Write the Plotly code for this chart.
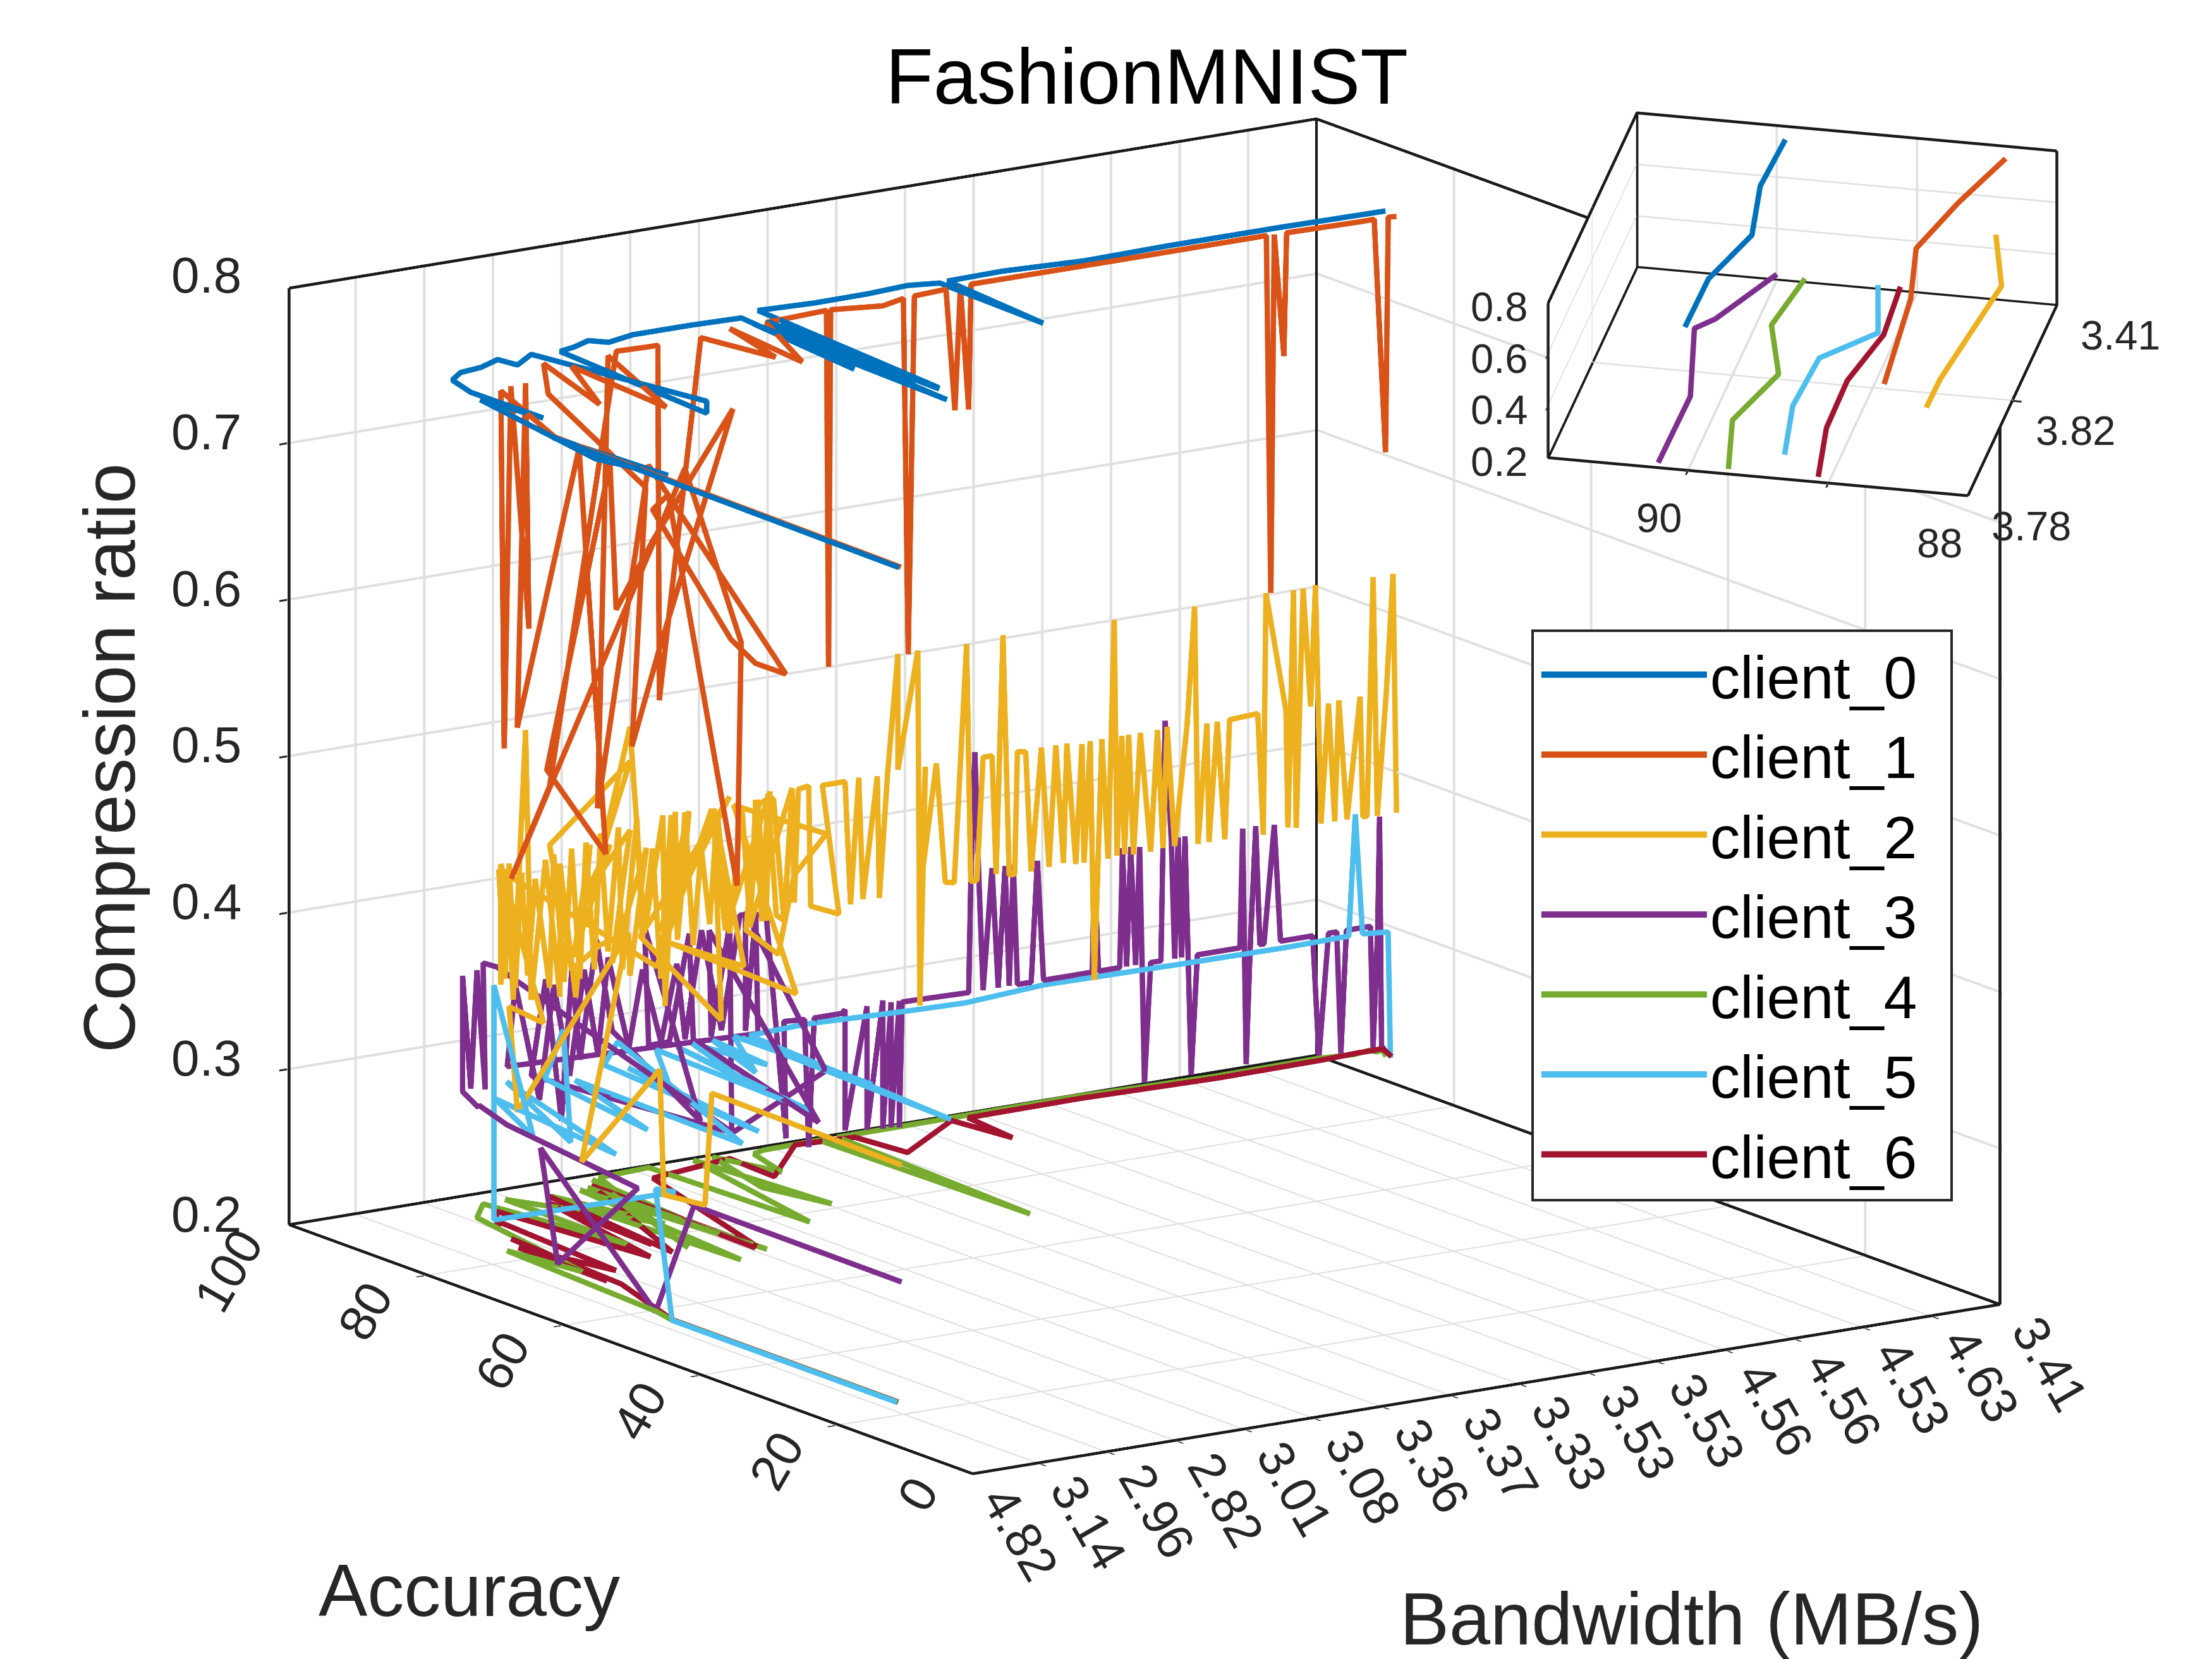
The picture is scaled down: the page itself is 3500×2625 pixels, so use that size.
import plotly.graph_objects as go

names = ["client_0","client_1","client_2","client_3","client_4","client_5","client_6"]
colors = ["#0072BD","#D95319","#EDB120","#7E2F8E","#77AC30","#4DBEEE","#A2142F"]

bw_labels = ["4.82","3.14","2.96","2.82","3.01","3.08","3.36","3.37","3.33","3.53","3.53","4.56","4.56","4.53","4.63","3.41"]
acc_ticks = [0,20,40,60,80,100]
cr_ticks = [0.2,0.3,0.4,0.5,0.6,0.7,0.8]

c0_x = [.35,.46,.57,.30,.77,.90,.88,1.03,1.32,1.67,2.05,2.10,2.53,3.00,2.67,2.90,3.17,3.48,3.64,4.09,4.91,5.64,5.36,5.60,5.45,5.76,5.67,5.80,5.55,5.90,5.70,6.01,6.79,7.57,8.20,8.59,8.58,8.52,8.72,9.5,10.7,11.90,13.48,14.6,15.0]
c0_a = [14.2,65.8,50.1,58,79.5,71.6,82,86.2,87.9,88.4,89.8,87.4,89.7,68.8,65.5,89.2,89.8,90.9,89.5,90.5,90.5,90.2,70.9,88,58.3,87.8,61.6,88,64,87,62,91.5,91,91.1,91.6,90.8,89,75,91,90.8,90.8,90.7,90.7,90.5,90.0]
c0_r = [.755,.755,.755,.755,.755,.755,.755,.755,.755,.755,.755,.755,.755,.755,.755,.755,.755,.755,.755,.755,.755,.755,.755,.755,.755,.755,.755,.755,.755,.755,.755,.755,.755,.755,.755,.755,.755,.755,.755,.756,.754,.755,.755,.755,.756]

c1_x = [.38,.49,1.22,.67,1.45,1.03,1.68,.86,1.76,2.15,1.29,2.21,2.30,2.83,4.00,2.94,2.53,2.73,1.61,2.40,1.84,2.60,2.43,3.26,2.03,2.77,4.77,4.33,3.97,2.83,3.06,4.06,4.12,3.30,.77,1.33,3.47,3.92,4.05,4.07,4.69,4.90,5.23,5.04,5.76,6.70,6.73,6.76,7.39,7.80,7.92,7.98,8.48,8.60,8.70,8.80,8.87,11.0,13.17,13.20,13.28,13.39,13.45,14.5,14.7,14.86,14.9,15.0]
c1_a = [14.2,65.8,81,75,81.85,75,82,75,75,75,75,75,75,75,75,75,75,75,78,86.6,72.8,84.5,69,85.8,75,75,75,75,75,75,75,75,75,75,75,75,86.7,86.45,86.45,86.45,86.6,77.8,87.8,75.3,87.8,88.4,88.4,88.4,87.1,88.2,88.7,88.4,88.8,88.7,88.9,88.7,89.06,89,89.05,88.7,89,88.7,88.9,88.6,88.65,88.6,88.6,88.4]
c1_r = [.755,.755,.755,.54,.755,.614,.755,.552,.724,.462,.522,.711,.617,.657,.733,.589,.528,.692,.755,.755,.755,.755,.755,.755,.492,.706,.558,.568,.586,.677,.685,.428,.583,.70,.456,.511,.755,.755,.755,.528,.755,.755,.755,.755,.755,.755,.527,.755,.755,.755,.526,.755,.755,.677,.755,.676,.755,.755,.755,.527,.755,.677,.755,.755,.755,.605,.755,.755]

c2_x = [.47,.50,.50,.50,.50,.50,.50,1.36,1.24,1.74,1.12,1.12,1.21,1.30,1.48,1.56,1.77,1.98,1.98,2.21,2.42,2.18,2.71,2.33,3.00,2.74,3.24,3.00,2.98,2.57,2.15,1.83,3.00,2.57,3.00,3.21,3.48,3.51,3.66,3.69,3.86,3.45,4.45,3.15,4.33,4.22,4.66,3.57,5.42,4.51,5.86,5.39,5.16,4.69,4.86,4.98,5.04,4.39,4.19,3.39,
1.09,1.18,1.24,1.33,1.42,1.51,1.62,1.83,1.89,2.04,2.15,2.27,2.36,2.48,2.57,2.68,2.83,2.89,3.10,3.18,3.33,3.45,3.60,3.69,3.80,3.92,4.04,4.16,4.27,4.45,4.63,4.75,4.83,4.92,5.01,5.13,5.25,5.36,
5.58,5.70,5.88,5.93,6.08,6.20,6.23,6.29,6.44,6.47,6.88,6.64,6.76,6.97,7.05,7.17,7.23,7.44,7.47,7.59,7.74,7.74,8.03,8.06,8.14,8.07,8.30,8.43,8.56,8.74,8.80,8.89,8.98,9.11,9.17,9.27,9.36,9.44,9.48,9.60,9.68,9.83,9.94,10.04,10.15,10.20,10.33,10.42,10.45,10.54,10.60,10.71,10.80,10.89,10.93,11.00,11.04,11.10,11.17,11.27,11.42,11.52,11.60,11.66,11.77,11.95,12.06,12.11,12.24,12.27,12.39,12.50,12.57,12.98,13.06,13.10,13.39,13.42,13.50,13.54,13.64,13.75,13.82,13.90,14.01,14.10,14.16,14.28,14.47,14.51,14.57,14.66,14.72,14.85,14.95,15.0]
c2_a = [15,43,44,50,50.6,62,55.3,80,80,80,80,80,80,80,80,80,80,80,80,80,80,80,80,80,80,80,80,80,80,80,80,80,80,80,80,80,80,80,80,80,80,80,80,80,80,80,80,80,80,80,80,80,80,80,80,80,80,80,80,80,
80,80,80,80,80,80,80,80,80,80,80,80,80,80,80,80,80,80,80,80,80,80,80,80,80,80,80,80,80,80,80,80,80,80,80,80,80,80,
88.4,88.4,88.4,88.4,88.4,88.4,88.4,88.4,88.4,88.4,88.4,88.4,88.4,88.4,88.4,88.4,88.4,88.4,88.4,88.4,88.4,88.4,88.4,88.4,88.4,88.4,88.4,88.4,88.4,88.4,88.4,88.4,88.4,88.4,88.4,88.4,88.4,88.4,88.4,88.4,88.4,88.4,88.4,88.4,88.4,88.4,88.4,88.4,88.4,88.4,88.4,88.4,88.4,88.4,88.4,88.4,88.4,88.4,88.4,88.4,88.4,88.4,88.4,88.4,88.4,88.4,88.4,88.4,88.4,88.4,88.4,88.4,88.4,88.4,88.4,88.4,88.4,88.4,88.4,88.4,88.4,88.4,88.4,88.4,88.4,88.4,88.4,88.4,88.4,88.4,88.4,88.4,88.4,88.4,88.4,88.4,88.4,88.4,88.4,88.4,88.4,88.4,88.4,88.4,88.4,88.4,88.4]
c2_r = [.371,.372,.299,.296,.375,.298,.454,.295,.363,.349,.455,.378,.451,.367,.538,.365,.453,.364,.449,.362,.458,.388,.456,.425,.463,.380,.450,.370,.397,.393,.380,.462,.507,.449,.529,.396,.469,.347,.470,.388,.469,.395,.474,.394,.332,.468,.364,.387,.341,.468,.440,.417,.368,.387,.469,.391,.473,.389,.468,.373,
.4515,.3813,.4544,.3744,.4473,.3809,.4419,.3708,.4555,.3731,.4574,.3734,.4598,.3778,.4641,.3879,.4661,.3748,.47,.392,.4489,.3649,.4683,.3922,.4687,.3828,.4438,.3946,.4653,.3867,.4666,.3885,.4691,.391,.4717,.3934,.3887,.4729,
.369,.446,.450,.448,.369,.453,.380,.452,.453,.376,.368,.452,.452,.452,.373,.453,.375,.452,.374,.453,.528,.454,.528,.301,.453,.377,.454,.377,.376,.527,.375,.375,.453,.453,.377,.529,.375,.375,.453,.452,.375,.453,.376,.453,.377,.453,.375,.451,.375,.452,.299,.452,.375,.527,.376,.452,.376,.452,.375,.452,.375,.452,.376,.453,.376,.452,.527,.375,.451,.375,.451,.375,.451,.452,.374,.528,.451,.376,.527,.375,.527,.451,.528,.375,.451,.375,.452,.375,.452,.375,.375,.527,.374,.451,.527,.374,.458]

c3_x = [.57,.55,.55,.55,.55,.55,.55,.55,1.00,1.58,1.58,1.70,1.79,1.91,1.88,2.08,2.85,2.58,2.79,3.02,3.17,3.29,3.53,3.76,2.85,4.23,4.29,4.59,4.88,4.94,4.00,5.17,5.20,5.47,5.50,5.49,5.70,5.70,5.85,5.88,
2.23,2.35,2.70,2.91,3.14,3.35,3.55,3.70,4.00,4.20,4.47,4.70,4.82,5.06,5.35,5.62,
6.00,6.29,6.26,6.56,6.62,6.70,7.10,7.15,7.15,7.47,7.47,7.70,7.70,7.82,7.82,7.94,7.94,7.98,8.95,8.98,9.04,9.10,9.16,9.29,9.38,9.48,9.54,9.60,9.66,9.86,9.95,10.04,10.75,10.78,10.84,11.15,11.19,11.25,11.31,11.38,11.44,11.51,11.60,11.75,11.81,11.90,11.95,12.00,12.05,12.10,12.19,12.28,12.90,12.94,12.99,13.05,13.13,13.19,13.25,13.40,13.49,13.96,14.05,14.19,14.25,14.31,14.37,14.45,14.80,14.84,14.90,14.94,14.97,15.0]
c3_a = [16,46.1,51.7,68.5,66,54.3,73.4,77.5,82.1,90.2,90.2,90.2,90.2,90.2,90.2,90.2,63.4,90.2,90.2,90.2,90.2,90.2,90.2,90.2,68.2,90.2,90.2,90.2,90.2,90.2,62.5,90.2,90.2,90.2,90.2,76.4,90.2,90.2,90.2,90.2,
90.2,90.2,90.2,90.2,90.2,90.2,90.2,90.2,90.2,90.2,90.2,90.2,90.2,90.2,90.2,90.2,
90.2,90.2,90.2,90.2,90.2,90.2,90.2,90.2,90.2,90.2,90.2,90.2,90.2,90.2,90.2,90.2,90.2,90.2,90.2,90.2,90.2,90.2,90.2,90.2,90.2,90.2,90.2,90.2,90.2,90.2,90.2,90.2,90.2,90.2,90.2,90.2,90.2,90.2,90.2,90.2,90.2,90.2,90.2,90.2,90.2,90.2,90.2,90.2,90.2,90.2,90.2,90.2,90.2,90.2,90.2,90.2,90.2,90.2,90.2,90.2,90.2,90.2,90.2,90.2,90.2,90.2,90.2,90.2,90.2,90.21,90.14,90.27,90.28,90.0]
c3_r = [.294,.295,.218,.296,.226,.293,.303,.309,.297,.290,.364,.291,.366,.289,.370,.366,.297,.293,.353,.261,.356,.298,.373,.313,.297,.376,.300,.300,.367,.299,.297,.367,.299,.369,.235,.297,.375,.299,.374,.296,
.3013,.3526,.2766,.3486,.2889,.3551,.2994,.3603,.3001,.349,.3006,.3491,.3,.3679,.302,.3736,
.371,.226,.301,.300,.218,.300,.300,.302,.225,.302,.223,.304,.222,.302,.222,.302,.221,.301,.300,.370,.453,.370,.300,.377,.300,.377,.300,.377,.300,.300,.377,.300,.300,.369,.300,.300,.376,.300,.376,.300,.375,.224,.300,.300,.453,.376,.300,.377,.300,.377,.224,.300,.300,.376,.225,.300,.376,.300,.300,.375,.300,.300,.222,.300,.300,.300,.222,.300,.300,.222,.297,.369,.220,.222]

c4_x = [.41,.41,.49,.66,.84,1.27,1.71,2.04,2.05,2.99,2.60,2.76,3.06,3.31,3.21,3.24,3.47,2.56,3.60,4.37,4.49,5.02,5.21,4.96,5.30,5.58,5.80,6.00,6.83,6.92,7.10,8.5,10.5,12.5,14.0,14.5,14.75,14.85,14.92,15.0]
c4_a = [15,48,51,74.5,65.2,85,88.5,70.7,88.7,74.8,87.5,61.4,87.9,63.1,88.3,70.7,90.2,67.1,90.5,91,68.7,91,72.7,80.4,91,83.7,90,90.6,90.8,60.9,90.8,90.5,90.3,90,89.8,89.7,89.71,89.84,89.67,89.88]
c4_r = [.22,.22,.22,.22,.22,.22,.22,.22,.22,.22,.22,.22,.22,.22,.22,.22,.22,.22,.22,.22,.22,.22,.22,.22,.22,.22,.22,.22,.22,.22,.22,.221,.222,.221,.222,.221,.222,.22,.221,.216]

c5_x = [.40,.40,.45,.65,.60,.60,.76,1.41,1.09,1.99,.97,2.03,2.46,2.08,2.72,2.65,2.82,3.43,3.15,3.59,3.40,4.37,4.24,4.66,4.39,4.90,5.07,5.20,4.74,5.52,5.58,5.56,5.41,5.70,6.58,8.01,8.76,10.05,12.0,13.5,14.4,14.5,14.6,14.95,15.0]
c5_a = [15,47.8,50.7,49.8,75.8,75.8,71.7,83.8,62.9,87.9,68.3,80,87,68.2,85.2,60.1,80,88.1,62.7,86.2,78,89.9,66.2,89.8,77.1,89.9,80.7,90,79.1,90.1,70.5,89.3,57.3,89.6,90.2,89.15,88.8,90.2,89.7,89.5,89.35,89.4,89.35,89.12,89.28]
c5_r = [.22,.22,.299,.297,.238,.388,.297,.297,.297,.297,.297,.3425,.297,.297,.297,.297,.329,.297,.297,.297,.297,.297,.297,.297,.297,.297,.297,.297,.297,.297,.297,.297,.297,.297,.297,.297,.297,.297,.297,.297,.298,.375,.298,.297,.216]

c6_x = [.42,.42,.89,1.03,.83,.86,1.21,1.37,1.30,1.64,1.93,2.40,2.28,2.58,2.28,3.30,3.23,3.30,3.29,4.12,5.43,5.38,6.46,7.27,7.38,8.70,8.84,8.90,10.5,12.5,14.0,14.5,14.75,14.85,14.92,15.0]
c6_a = [15,48,60.1,77.6,61.6,74.8,64.1,82.2,82.4,85.8,66.3,86,69.6,87.6,66.6,88.6,64,86.8,64.4,87.9,89.8,82.8,90.6,90,83.4,90.2,82.7,89.8,89.6,89.4,89.2,89.1,89.07,89.17,89.18,89.12]
c6_r = [.22,.22,.22,.22,.22,.22,.22,.22,.22,.22,.22,.22,.22,.22,.22,.22,.22,.22,.22,.22,.22,.22,.22,.22,.22,.22,.22,.221,.222,.221,.222,.223,.223,.223,.221,.217]

all_x = [c0_x,c1_x,c2_x,c3_x,c4_x,c5_x,c6_x]
all_a = [c0_a,c1_a,c2_a,c3_a,c4_a,c5_a,c6_a]
all_r = [c0_r,c1_r,c2_r,c3_r,c4_r,c5_r,c6_r]

inset_x = [0,.25,.5,.75,1]
inset_a = [[90.02,90.01,89.86,89.96,89.94],[88.6,88.57,88.69,88.55,88.37],[88.3,88.36,88.30,88.24,88.44],[90.21,90.14,90.27,90.28,90.0],[89.71,89.84,89.67,89.88,89.8],[89.31,89.41,89.38,89.12,89.28],[89.07,89.17,89.18,89.08,89.12]]
inset_r = [[.756,.759,.75,.75,.746],[.605,.751,.756,.754,.75],[.529,.451,.45,.448,.452],[.222,.297,.369,.22,.222],[.222,.22,.221,.216,.215],[.297,.297,.298,.223,.216],[.223,.223,.221,.218,.217]]
inset_bw_vals = [0,.5,1]
inset_bw_labels = ["3.78","3.82","3.41"]
inset_acc_ticks = [88,90]
inset_cr_ticks = [.2,.4,.6,.8]

DARK = "#262626"; GRID = "#e0e0e0"; FONT = "Liberation Sans"
LW = 17
fig = go.Figure()
for i,n in enumerate(names):
    fig.add_trace(go.Scatter3d(x=all_x[i],y=all_a[i],z=all_r[i],mode="lines",name=n,
        line=dict(color=colors[i],width=LW),scene="scene",hoverinfo="skip"))
for i,n in enumerate(names):
    fig.add_trace(go.Scatter3d(x=inset_x,y=inset_a[i],z=inset_r[i],mode="lines",name=n,showlegend=False,
        line=dict(color=colors[i],width=LW),scene="scene2",hoverinfo="skip"))

def box(x0,x1,y0,y1,z0,z1,scene,w):
    ex = [x0,x1,x1,x0,x0,None,x0,x0,None,x1,x1,None,x1,x1,None,x0,x1,x1]
    ey = [y0,y0,y1,y1,y0,None,y1,y1,None,y1,y1,None,y0,y0,None,y1,y1,y0]
    ez = [z0,z0,z0,z0,z0,None,z0,z1,None,z0,z1,None,z0,z1,None,z1,z1,z1]
    fig.add_trace(go.Scatter3d(x=ex,y=ey,z=ez,mode="lines",showlegend=False,hoverinfo="skip",
        line=dict(color="#1a1a1a",width=w),scene=scene))
box(.02,14.98,.12,99.88,.2008,.7992,"scene",9)
box(.002,.998,88.004,90.996,.2012,.7988,"scene2",9)

def ax(vals,rng,bg=False):
    return dict(range=rng,tickvals=vals,showticklabels=False,title=dict(text=""),showgrid=True,gridcolor=GRID,gridwidth=8,
        zeroline=False,showspikes=False,showline=False,ticks="outside",ticklen=14,tickwidth=6,tickcolor=DARK,autorange=False,
        showbackground=bg,backgroundcolor="white")

def tick_notes():
    out=[]
    f=dict(family=FONT,size=80,color=DARK)
    for i,t in enumerate(bw_labels):
        out.append(dict(x=i,y=0,z=.2,text=t,showarrow=False,textangle=60,xshift=76,yshift=-92,font=f))
    for v in acc_ticks:
        t=str(v)
        dx,dy={1:(-85,-29),2:(-92,-56),3:(-92,-71)}[len(t)]
        out.append(dict(x=0,y=v,z=.2,text=t,showarrow=False,textangle=-60,xshift=dx,yshift=dy,font=f))
    for v in cr_ticks:
        out.append(dict(x=0,y=100,z=v,text=f"{v:.1f}",showarrow=False,xshift=-127,yshift=18,font=f))
    return out

def inset_notes():
    out=[]
    f=dict(family=FONT,size=65,color=DARK)
    for v,t in zip(inset_bw_vals,inset_bw_labels):
        out.append(dict(x=v,y=88,z=.2,text=t,showarrow=False,xshift=100,yshift=-48,font=f))
    for v in inset_acc_ticks:
        out.append(dict(x=0,y=v,z=.2,text=str(v),showarrow=False,xshift=-45,yshift=-75,font=f))
    for v in inset_cr_ticks:
        out.append(dict(x=0,y=91,z=v,text=f"{v:.1f}",showarrow=False,xshift=-76,yshift=-6,font=f))
    return out

R = 1.9
scene_main = dict(domain=dict(x=[.0322,.998],y=[.046,1]),aspectmode="manual",aspectratio=dict(x=1.569,y=1.552,z=1.224),
    camera=dict(projection=dict(type="orthographic"),center=dict(x=0,y=0,z=0),up=dict(x=0,y=0,z=1),
                eye=dict(x=-.541*R,y=-.8045*R,z=.245*R)),
    xaxis=ax(list(range(1,15)),[0,15]),yaxis=ax(acc_ticks[1:-1],[0,100]),zaxis=ax(cr_ticks[1:-1],[.2,.8]),annotations=tick_notes())
R2 = 2.23
scene_in = dict(domain=dict(x=[.6325,.9925],y=[.6498,.9898]),aspectmode="manual",aspectratio=dict(x=1.57,y=1.523,z=.612),
    camera=dict(projection=dict(type="orthographic"),center=dict(x=0,y=0,z=0),up=dict(x=0,y=0,z=1),
                eye=dict(x=-.8796*R2,y=-.1809*R2,z=.4406*R2)),
    xaxis=ax([.5],[0,1],True),yaxis=ax([89,90],[88,91],True),zaxis=ax([.4,.6],[.2,.8],True),annotations=inset_notes())

def note(text,x,y,size,color=DARK,angle=0):
    return dict(text=text,x=x,y=y,xref="paper",yref="paper",xanchor="center",yanchor="middle",showarrow=False,textangle=angle,
                font=dict(family=FONT,size=size,color=color))
fig.update_layout(width=3500,height=2625,margin=dict(l=0,r=0,t=0,b=0),paper_bgcolor="white",
    scene=scene_main,scene2=scene_in,
    shapes=[dict(type="rect",xref="paper",yref="paper",x0=2417/3500,x1=3080/3500,y0=1-1891/2625,y1=1-990/2625,
                 fillcolor="white",line=dict(color=DARK,width=4),layer="above")],
    legend=dict(x=.6931,y=.6224,xanchor="left",yanchor="top",bgcolor="rgba(0,0,0,0)",borderwidth=0,
                font=dict(family=FONT,size=95,color="#000000"),itemwidth=262),
    annotations=[
      note("FashionMNIST",.516,.957,124,"#000000"),
      note("Compression ratio",.0472,.546,115,DARK,-90),
      note("Accuracy",.2098,.0442,116),
      note("Bandwidth (MB/s)",.7625,.0274,117),
    ])
fig.write_html("out.html")
